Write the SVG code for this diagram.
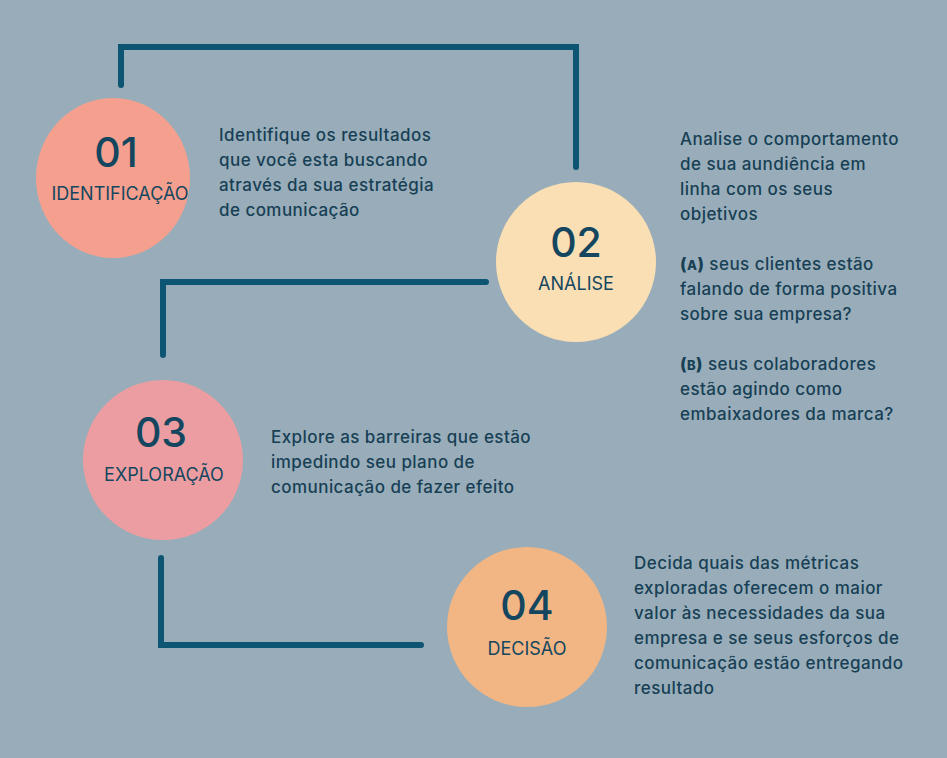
<svg xmlns="http://www.w3.org/2000/svg" width="947" height="758" viewBox="0 0 947 758">
<style>
.bg{fill:#98adb9}
.conn{fill:none;stroke:#0e5573;stroke-width:6;stroke-linecap:round;stroke-linejoin:miter}
.num{font-family:Inter,"Open Sans","Liberation Sans",sans-serif;font-size:41px;font-weight:500;fill:#14475f;text-anchor:middle}
.lbl{font-family:Inter,"Open Sans","Liberation Sans",sans-serif;font-size:18px;font-weight:400;fill:#14475f;text-anchor:middle}
.body{font-family:Inter,"Open Sans","Liberation Sans",sans-serif;font-size:17px;font-weight:500;letter-spacing:0.45px;fill:#173f55}
.b{font-weight:800}
</style>
<rect class="bg" x="0" y="0" width="947" height="758"/>
<g id="connectors">
<path class="conn" d="M121,85 V47 H576 V167"/>
<path class="conn" d="M486,282 H163 V355"/>
<path class="conn" d="M161,558 V645 H421"/>
</g>
<g id="node01">
<ellipse cx="113" cy="178" rx="77" ry="80" fill="#f5a08e"/>
<text class="num" x="116" y="167">01</text>
<text class="lbl" x="120" y="200">IDENTIFICAÇÃO</text>
<text class="body"><tspan x="219" y="141">Identifique os resultados</tspan><tspan x="219" y="166">que você esta buscando</tspan><tspan x="219" y="191">através da sua estratégia</tspan><tspan x="219" y="216">de comunicação</tspan></text>
</g>
<g id="node02">
<circle cx="576" cy="262" r="80" fill="#fbdfb4"/>
<text class="num" x="576" y="257">02</text>
<text class="lbl" x="576" y="290">ANÁLISE</text>
<text class="body"><tspan x="680" y="145">Analise o comportamento</tspan><tspan x="680" y="170">de sua aundiência em</tspan><tspan x="680" y="195">linha com os seus</tspan><tspan x="680" y="220">objetivos</tspan><tspan x="680" y="270"><tspan class="b">(<tspan font-size="13">A</tspan>)</tspan> seus clientes estão</tspan><tspan x="680" y="295">falando de forma positiva</tspan><tspan x="680" y="320">sobre sua empresa?</tspan><tspan x="680" y="370"><tspan class="b">(<tspan font-size="13">B</tspan>)</tspan> seus colaboradores</tspan><tspan x="680" y="395">estão agindo como</tspan><tspan x="680" y="420">embaixadores da marca?</tspan></text>
</g>
<g id="node03">
<circle cx="163" cy="460" r="80" fill="#ec9da1"/>
<text class="num" x="161" y="447">03</text>
<text class="lbl" x="164" y="481">EXPLORAÇÃO</text>
<text class="body"><tspan x="271" y="443">Explore as barreiras que estão</tspan><tspan x="271" y="468">impedindo seu plano de</tspan><tspan x="271" y="493">comunicação de fazer efeito</tspan></text>
</g>
<g id="node04">
<circle cx="527" cy="627" r="80" fill="#f2b584"/>
<text class="num" x="527" y="620">04</text>
<text class="lbl" x="527" y="655">DECISÃO</text>
<text class="body"><tspan x="634" y="569">Decida quais das métricas</tspan><tspan x="634" y="594">exploradas oferecem o maior</tspan><tspan x="634" y="619">valor às necessidades da sua</tspan><tspan x="634" y="644">empresa e se seus esforços de</tspan><tspan x="634" y="669">comunicação estão entregando</tspan><tspan x="634" y="694">resultado</tspan></text>
</g>
</svg>
